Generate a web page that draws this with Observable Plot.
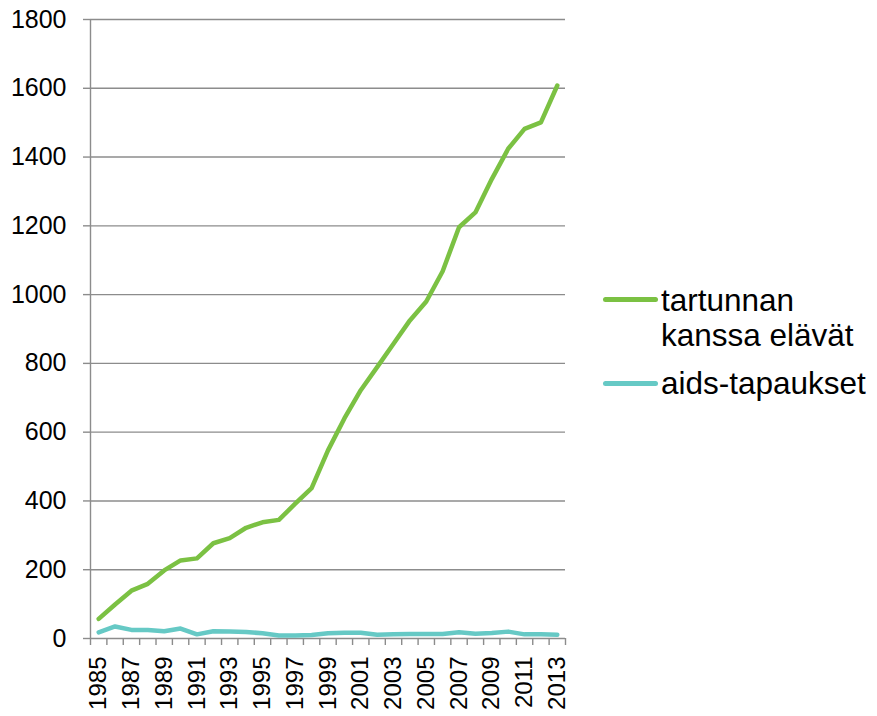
<!DOCTYPE html>
<html>
<head>
<meta charset="utf-8">
<script src="https://cdn.jsdelivr.net/npm/d3@7"></script>
<script src="https://cdn.jsdelivr.net/npm/@observablehq/plot@0.6"></script>
<style>
  body { margin: 0; background: #fff; font-family: "Liberation Sans", Arial, sans-serif; }
  #wrap { position: relative; width: 877px; height: 716px; }
  .sw { position: absolute; left: 603px; width: 55px; height: 5px; border-radius: 3px; }
  .lt { position: absolute; left: 661px; font-size: 31.5px; line-height: 35px; color: #000; white-space: nowrap; }
</style>
</head>
<body>
<div id="wrap"></div>
<script>
const years = [1985,1986,1987,1988,1989,1990,1991,1992,1993,1994,1995,1996,1997,1998,1999,2000,2001,2002,2003,2004,2005,2006,2007,2008,2009,2010,2011,2012,2013];
const living = [57,99,139,159,198,227,233,277,292,322,338,345,392,437,547,640,722,789,857,925,980,1068,1196,1239,1336,1424,1482,1501,1608];
const aids = [18,35,25,25,21,29,12,21,20,19,15,9,9,10,15,17,17,11,12,13,13,13,18,14,16,20,12,12,11];
const yTicks = [0,200,400,600,800,1000,1200,1400,1600,1800];
const seriesNames = ["tartunnan kanssa elävät", "aids-tapaukset"];
const seriesColors = ["#7BC143", "#66C9C5"];

const labelYears = years.filter(y => y % 2 === 1);
const boundaries = years.map(y => y - 0.5).concat([years[years.length - 1] + 0.5]);
const rows = years.map((y, i) => ({year: y, living: living[i], aids: aids[i]}));
const gray = "#8c8c8c";
const font = "'Liberation Sans', Arial, sans-serif";

const chart = Plot.plot({
  width: 877,
  height: 716,
  marginLeft: 90,
  marginRight: 312,
  marginTop: 19,
  marginBottom: 78,
  style: {fontFamily: font, background: "#fff", color: "#000"},
  x: {domain: [boundaries[0], boundaries[boundaries.length - 1]]},
  y: {domain: [0, 1800]},
  marks: [
    Plot.gridY(yTicks, {stroke: gray, strokeOpacity: 1, strokeWidth: 1.4}),
    Plot.ruleX([boundaries[0]], {stroke: gray, strokeWidth: 1.4}),
    Plot.axisY(yTicks, {tickSize: 7, tickPadding: 17, fontSize: 25, stroke: gray, strokeWidth: 1.4, fill: "#000", tickFormat: d => String(d), label: null}),
    Plot.axisX(boundaries, {tickSize: 7, stroke: gray, strokeWidth: 1.4, tickFormat: () => "", label: null}),
    Plot.axisX(labelYears, {tickSize: 0, tickPadding: 18, tickRotate: -90, fontSize: 24, fill: "#000", tickFormat: d => String(d), label: null}),
    Plot.line(rows, {x: "year", y: "living", stroke: seriesColors[0], strokeWidth: 4.5}),
    Plot.line(rows, {x: "year", y: "aids", stroke: seriesColors[1], strokeWidth: 4.5})
  ]
});

const wrap = document.getElementById("wrap");
wrap.appendChild(chart);

function addLegend(name, color, swTop, textTop) {
  const sw = document.createElement("div");
  sw.className = "sw";
  sw.style.top = swTop + "px";
  sw.style.background = color;
  wrap.appendChild(sw);
  const t = document.createElement("div");
  t.className = "lt";
  t.style.top = textTop + "px";
  t.textContent = name;
  wrap.appendChild(t);
  return t;
}
const t1 = addLegend(seriesNames[0], seriesColors[0], 296.5, 282.5);
t1.innerHTML = "tartunnan<br>kanssa elävät";
addLegend(seriesNames[1], seriesColors[1], 380.5, 365.5);
</script>
</body>
</html>
